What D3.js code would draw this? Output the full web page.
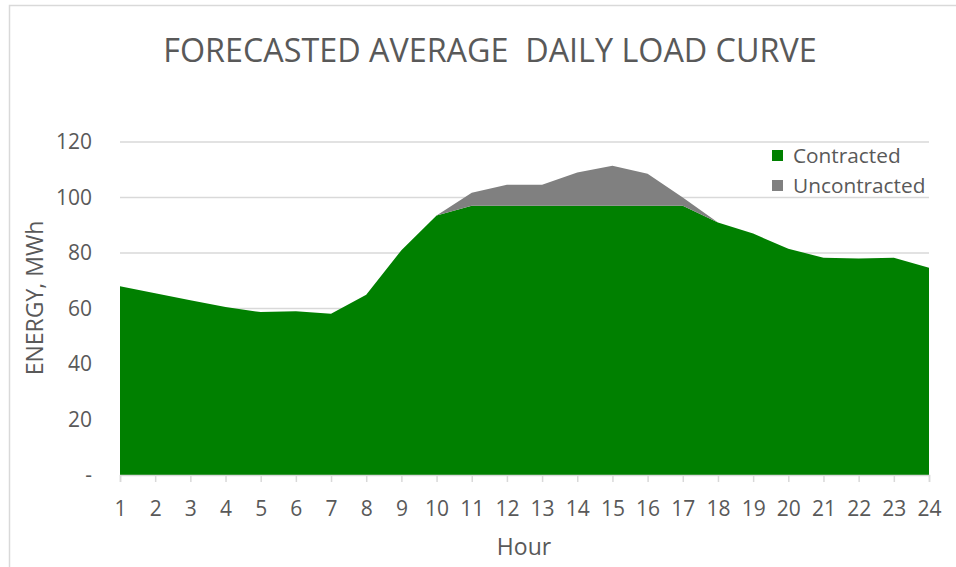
<!DOCTYPE html>
<html>
<head>
<meta charset="utf-8">
<script src="https://cdn.jsdelivr.net/npm/d3@7"></script>
<style>
    body { margin: 0; background: #fff; }
    svg text { font-family: "Open Sans", sans-serif; fill: #595959; }
</style>
</head>
<body>
<svg id="chart" width="956" height="567"></svg>
<script>
// data
const hours = d3.range(1, 25)
const contracted = [68, 65.5, 63, 60.5, 58.7, 59, 58.1, 65, 81, 93.5, 97, 97, 97, 97, 97, 97, 97, 91, 87, 81.5, 78.3, 78, 78.3, 74.7]
const uncontracted = [0, 0, 0, 0, 0, 0, 0, 0, 0, 0, 4.7, 7.6, 7.6, 12, 14.4, 11.6, 3, 0, 0, 0, 0, 0, 0, 0]
const yTicks = [0, 20, 40, 60, 80, 100, 120]
const seriesNames = ["Contracted", "Uncontracted"]
const seriesColors = ["#008000", "#808080"]

let svg = d3.select("#chart")

// chart frame (only top / left edges show in the crop)
svg.append("rect")
    .attr("x", 9.5).attr("y", 5.5)
    .attr("width", 960).attr("height", 580)
    .attr("fill", "none")
    .attr("stroke", "#d9d9d9")
    .attr("stroke-width", 1.5)

let x = d3.scaleLinear().domain([1, 24]).range([120, 929])
let y = d3.scaleLinear().domain([0, 120]).range([475, 142])

// gridlines
svg.append("g")
    .selectAll("line")
    .data(yTicks.filter(d => d > 0))
    .enter()
    .append("line")
    .attr("x1", x(1)).attr("x2", x(24))
    .attr("y1", d => y(d)).attr("y2", d => y(d))
    .attr("stroke", "#d9d9d9")
    .attr("stroke-width", 1.5)

// stacked areas
let rows = hours.map((h, i) => ({ hour: h, Contracted: contracted[i], Uncontracted: uncontracted[i] }))
let stacked = d3.stack().keys(seriesNames)(rows)
let area = d3.area()
    .x(d => x(d.data.hour))
    .y0(d => y(d[0]))
    .y1(d => y(d[1]))

svg.append("g")
    .selectAll("path")
    .data(stacked)
    .enter()
    .append("path")
    .attr("d", area)
    .attr("fill", (d, i) => seriesColors[i])

// x axis
let xAxis = svg.append("g")
    .attr("transform", `translate(0,${y(0)})`)
    .call(d3.axisBottom(x).tickValues(hours).tickFormat(d3.format("d")).tickSize(7).tickPadding(19))
xAxis.select(".domain").attr("stroke", "#d9d9d9").attr("stroke-width", 1.5)
xAxis.selectAll(".tick line").attr("stroke", "#d9d9d9").attr("stroke-width", 1.5)
xAxis.selectAll("text").style("font-size", "21px").attr("fill", "#595959")

// y axis
let yAxis = svg.append("g")
    .attr("transform", `translate(${x(1)},0)`)
    .call(d3.axisLeft(y).tickValues(yTicks).tickFormat(d => d == 0 ? "-" : d).tickSize(0).tickPadding(28))
yAxis.select(".domain").remove()
yAxis.selectAll("text").style("font-size", "21px").attr("fill", "#595959")

// title
svg.append("text")
    .attr("x", 490).attr("y", 62)
    .attr("text-anchor", "middle")
    .style("font-size", "32.3px")
    .style("white-space", "pre")
    .attr("xml:space", "preserve")
    .text("FORECASTED AVERAGE  DAILY LOAD CURVE")

// axis titles
svg.append("text")
    .attr("transform", "translate(43,298) rotate(-90)")
    .attr("text-anchor", "middle")
    .style("font-size", "23px")
    .text("ENERGY, MWh")

svg.append("text")
    .attr("x", 524).attr("y", 555)
    .attr("text-anchor", "middle")
    .style("font-size", "23px")
    .text("Hour")

// legend
let legend = svg.append("g")
    .selectAll("g")
    .data(seriesNames)
    .enter()
    .append("g")
    .attr("transform", (d, i) => `translate(772,${150 + i * 30})`)
legend.append("rect")
    .attr("width", 11).attr("height", 11)
    .attr("fill", (d, i) => seriesColors[i])
legend.append("text")
    .attr("x", 21).attr("y", 12.5)
    .style("font-size", "20.8px")
    .text(d => d)
</script>
</body>
</html>
